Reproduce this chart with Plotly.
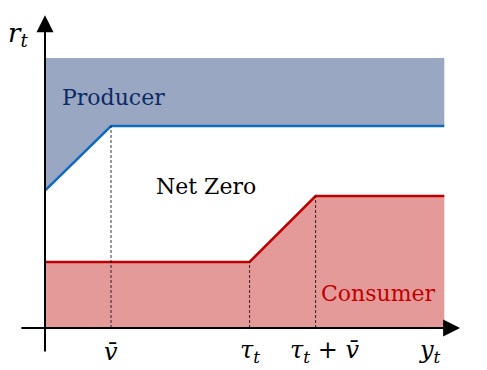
import plotly.graph_objects as go

# model values (chart units)
v_bar = 1.0
tau = 3.1
x_end = 6.05

consumer_x = [0, tau, tau + v_bar, x_end]
consumer_r = [1.0, 1.0, 2.0, 2.0]

producer_x = [0, v_bar, x_end]
producer_r = [2.08, 3.06, 3.06]
producer_cap = 4.09

tick_vals = [v_bar, tau, tau + v_bar]
tick_text = ["<i>v\u0304</i>", "<i>\u03c4<sub>t</sub></i>", "<i>\u03c4<sub>t</sub></i> + <i>v\u0304</i>"]

SERIF = "DejaVu Serif"
BLUE_FILL = "#9AA7C2"
BLUE_LINE = "#0F6BBF"
RED_FILL = "#E59A9A"
RED_LINE = "#C00000"


def create_figure():
    fig = go.Figure()

    # producer band: between cap and producer line
    fig.add_trace(go.Scatter(
        x=[0, x_end], y=[producer_cap, producer_cap], mode="lines",
        line=dict(width=0, color=BLUE_FILL), hoverinfo="skip",
    ))
    fig.add_trace(go.Scatter(
        x=producer_x, y=producer_r, mode="lines", fill="tonexty",
        fillcolor=BLUE_FILL, line=dict(color=BLUE_LINE, width=2.5),
    ))

    # consumer area
    fig.add_trace(go.Scatter(
        x=consumer_x, y=consumer_r, mode="lines", fill="tozeroy",
        fillcolor=RED_FILL, line=dict(color=RED_LINE, width=2.5),
    ))

    # dashed guides down to the axis
    guide_tops = [producer_r[1], consumer_r[1], consumer_r[2]]
    for xv, top in zip(tick_vals, guide_tops):
        fig.add_trace(go.Scatter(
            x=[xv, xv], y=[0, top], mode="lines",
            line=dict(color="black", width=0.8, dash="3px,2px"), hoverinfo="skip",
        ))

    # axes with arrows
    fig.add_annotation(x=6.29, y=0, ax=-0.38, ay=0, xref="x", yref="y",
                       axref="x", ayref="y", showarrow=True, arrowhead=2,
                       arrowsize=1.7, arrowwidth=2, arrowcolor="black", text="")
    fig.add_annotation(x=0, y=4.74, ax=0, ay=-0.38, xref="x", yref="y",
                       axref="x", ayref="y", showarrow=True, arrowhead=2,
                       arrowsize=1.7, arrowwidth=2, arrowcolor="black", text="")

    # tick labels
    shifts = [0, 0, 9]
    for xv, txt, sh in zip(tick_vals, tick_text, shifts):
        fig.add_annotation(x=xv, y=-0.36, text=txt, showarrow=False, xshift=sh,
                           font=dict(family=SERIF, size=24, color="black"))
    fig.add_annotation(x=5.83, y=-0.36, text="<i>y<sub>t</sub></i>", showarrow=False,
                       font=dict(family=SERIF, size=24, color="black"))
    fig.add_annotation(x=-0.41, y=4.44, text="<i>r<sub>t</sub></i>", showarrow=False,
                       font=dict(family=SERIF, size=26, color="black"))

    # region labels
    fig.add_annotation(x=1.045, y=3.5, text="Producer", showarrow=False,
                       font=dict(family=SERIF, size=22, color="#0A2A66"))
    fig.add_annotation(x=2.44, y=2.15, text="Net Zero", showarrow=False,
                       font=dict(family=SERIF, size=22, color="black"))
    fig.add_annotation(x=5.05, y=0.53, text="Consumer", showarrow=False,
                       font=dict(family=SERIF, size=22, color=RED_LINE))

    # the page adds an 8px body margin, so offset the ranges to compensate
    fig.update_layout(
        width=487, height=370, margin=dict(l=0, r=0, t=0, b=0),
        plot_bgcolor="white", paper_bgcolor="white", showlegend=False,
    )
    fig.update_xaxes(range=[-37 / 66, 450 / 66], visible=False)
    fig.update_yaxes(range=[-50 / 66, 320 / 66], visible=False)
    return fig


def main():
    fig = create_figure()
    fig.write_html("out.html")


if __name__ == "__main__":
    main()
